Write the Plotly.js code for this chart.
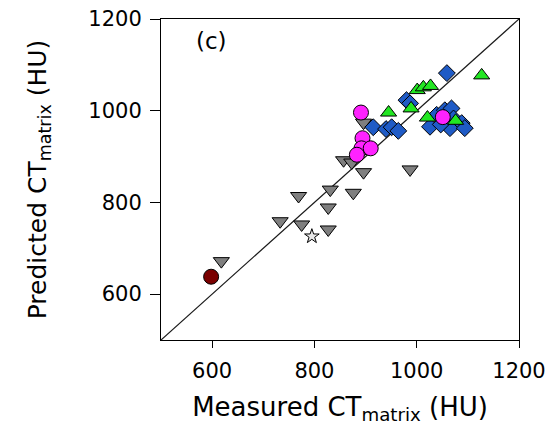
<!DOCTYPE html>
<html>
<head>
<meta charset="utf-8">
<script src="https://cdn.plot.ly/plotly-3.0.1.min.js"></script>
<style>html,body{margin:0;padding:0;background:#fff;}#chart{width:549px;height:431px;}</style>
</head>
<body>
<div id="chart"></div>
<script>
// Measured vs predicted CT_matrix (HU)
const grayX = [618, 733, 769, 775, 831, 827, 827, 876, 857, 873, 896, 987, 896];
const grayY = [672, 759, 814, 752, 828, 789, 741, 821, 892, 887, 866, 872, 974];
const starX = [795];
const starY = [726];
const redX = [598];
const redY = [638];
const blueX = [1059, 980, 987, 915, 940, 951, 964, 1026, 1039, 1055, 1068, 1072, 1065, 1088, 1094, 1047];
const blueY = [1082, 1023, 1016, 964, 960, 964, 956, 965, 991, 1001, 1005, 983, 962, 973, 962, 970];
const greenX = [1127, 1001, 1013, 1027, 945, 989, 1021, 1076];
const greenY = [1077, 1045, 1051, 1054, 996, 1005, 985, 978];
const magX = [891, 894, 892, 910, 883, 1051];
const magY = [996, 940, 918, 918, 904, 986];
const lineX = [500, 1200];
const lineY = [500, 1200];
const tickVals = [600, 800, 1000, 1200];

const outline = {color: '#000', width: 1};
const traces = [
  {x: lineX, y: lineY, mode: 'lines', line: {color: '#1a1a1a', width: 1.2}, hoverinfo: 'skip'},
  {x: grayX, y: grayY, mode: 'markers', marker: {symbol: 'triangle-down', size: 14, color: '#7f7f7f', line: outline}},
  {x: starX, y: starY, mode: 'markers', marker: {symbol: 'star', size: 11, color: '#e8e8e8', line: outline}},
  {x: redX, y: redY, mode: 'markers', marker: {symbol: 'circle', size: 15, color: '#7a0000', line: outline}},
  {x: blueX, y: blueY, mode: 'markers', marker: {symbol: 'diamond', size: 13, color: '#1f5bc6', line: outline}},
  {x: greenX, y: greenY, mode: 'markers', marker: {symbol: 'triangle-up', size: 14, color: '#22e622', line: outline}},
  {x: magX, y: magY, mode: 'markers', marker: {symbol: 'circle', size: 15, color: '#ff22ff', line: outline}}
];

const font = {family: '"DejaVu Sans", Arial, sans-serif', color: '#000'};
const layout = {
  width: 549, height: 431,
  margin: {l: 161, r: 30, t: 19, b: 91},
  paper_bgcolor: '#fff', plot_bgcolor: '#fff',
  showlegend: false,
  font: Object.assign({size: 20}, font),
  xaxis: {
    range: [500, 1200], tickvals: tickVals, ticks: 'outside', ticklen: 7, tickcolor: '#000',
    showline: true, linecolor: '#000', linewidth: 1, mirror: true, showgrid: false, zeroline: false,
    tickfont: Object.assign({size: 21}, font), ticklabelstandoff: 5,
    title: {text: 'Measured CT<sub>matrix</sub> (HU)', font: Object.assign({size: 26}, font), standoff: 15}
  },
  yaxis: {
    range: [500, 1200], tickvals: tickVals, ticks: 'outside', ticklen: 10, tickcolor: '#000',
    showline: true, linecolor: '#000', linewidth: 1, mirror: true, showgrid: false, zeroline: false,
    tickfont: Object.assign({size: 21}, font), ticklabelstandoff: 4,
    title: {text: 'Predicted CT<sub>matrix</sub> (HU)', font: Object.assign({size: 25}, font), standoff: 34}
  },
  annotations: [{
    text: '(c)', xref: 'x', yref: 'y', x: 598, y: 1152, showarrow: false,
    font: Object.assign({size: 23}, font)
  }]
};
Plotly.newPlot('chart', traces, layout, {displayModeBar: false, staticPlot: true});
</script>
</body>
</html>
